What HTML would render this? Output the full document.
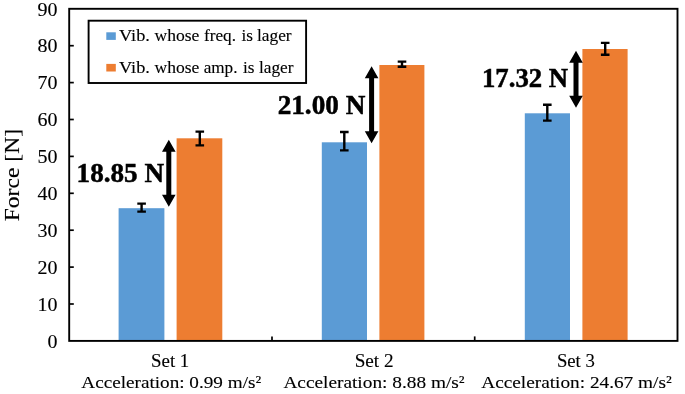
<!DOCTYPE html>
<html><head><meta charset="utf-8"><title>chart</title>
<style>
html,body{margin:0;padding:0;background:#fff;}
body{width:685px;height:394px;overflow:hidden;}
svg{display:block;filter:blur(0.45px);}
text{font-family:"Liberation Serif",serif;fill:#000;stroke:#000;stroke-width:0.12px;}
text.b{stroke-width:0.5px;}
</style></head><body>
<svg width="685" height="394" viewBox="0 0 685 394">
<rect x="0" y="0" width="685" height="394" fill="#fff"/>

<rect x="118.6" y="208.2" width="45.8" height="132.7" fill="#5b9bd5"/>
<rect x="176.6" y="138.3" width="45.7" height="202.6" fill="#ed7d31"/>
<rect x="321.8" y="142.3" width="45.2" height="198.6" fill="#5b9bd5"/>
<rect x="379.4" y="65.0" width="45.0" height="275.9" fill="#ed7d31"/>
<rect x="524.8" y="113.3" width="45.2" height="227.6" fill="#5b9bd5"/>
<rect x="582.4" y="49.0" width="45.2" height="291.9" fill="#ed7d31"/>
<path d="M141.6 203.6V211.6M137.29999999999998 203.6H145.9M137.29999999999998 211.6H145.9" stroke="#000" stroke-width="2.4" fill="none"/>
<path d="M199.8 131.6V145.4M195.5 131.6H204.10000000000002M195.5 145.4H204.10000000000002" stroke="#000" stroke-width="2.4" fill="none"/>
<path d="M344.3 132.0V150.4M340.0 132.0H348.6M340.0 150.4H348.6" stroke="#000" stroke-width="2.4" fill="none"/>
<path d="M402.0 61.6V66.8M397.7 61.6H406.3M397.7 66.8H406.3" stroke="#000" stroke-width="2.4" fill="none"/>
<path d="M547.3 104.8V120.6M543.0 104.8H551.5999999999999M543.0 120.6H551.5999999999999" stroke="#000" stroke-width="2.4" fill="none"/>
<path d="M605.2 42.9V54.8M600.9000000000001 42.9H609.5M600.9000000000001 54.8H609.5" stroke="#000" stroke-width="2.4" fill="none"/>
<rect x="69.2" y="8.8" width="608.3" height="332.1" fill="none" stroke="#000" stroke-width="1.9"/>
<text y="347.6" font-size="18"><tspan x="47.6" textLength="10.0" lengthAdjust="spacingAndGlyphs">0</tspan></text>
<path d="M69.2 304.0h4.6" stroke="#000" stroke-width="1.7"/>
<text y="310.7" font-size="18"><tspan x="37.6" textLength="20.0" lengthAdjust="spacingAndGlyphs">10</tspan></text>
<path d="M69.2 267.1h4.6" stroke="#000" stroke-width="1.7"/>
<text y="273.8" font-size="18"><tspan x="37.6" textLength="20.0" lengthAdjust="spacingAndGlyphs">20</tspan></text>
<path d="M69.2 230.2h4.6" stroke="#000" stroke-width="1.7"/>
<text y="236.9" font-size="18"><tspan x="37.6" textLength="20.0" lengthAdjust="spacingAndGlyphs">30</tspan></text>
<path d="M69.2 193.3h4.6" stroke="#000" stroke-width="1.7"/>
<text y="200.0" font-size="18"><tspan x="37.6" textLength="20.0" lengthAdjust="spacingAndGlyphs">40</tspan></text>
<path d="M69.2 156.4h4.6" stroke="#000" stroke-width="1.7"/>
<text y="163.1" font-size="18"><tspan x="37.6" textLength="20.0" lengthAdjust="spacingAndGlyphs">50</tspan></text>
<path d="M69.2 119.5h4.6" stroke="#000" stroke-width="1.7"/>
<text y="126.2" font-size="18"><tspan x="37.6" textLength="20.0" lengthAdjust="spacingAndGlyphs">60</tspan></text>
<path d="M69.2 82.6h4.6" stroke="#000" stroke-width="1.7"/>
<text y="89.3" font-size="18"><tspan x="37.6" textLength="20.0" lengthAdjust="spacingAndGlyphs">70</tspan></text>
<path d="M69.2 45.7h4.6" stroke="#000" stroke-width="1.7"/>
<text y="52.4" font-size="18"><tspan x="37.6" textLength="20.0" lengthAdjust="spacingAndGlyphs">80</tspan></text>
<text y="15.5" font-size="18"><tspan x="37.6" textLength="20.0" lengthAdjust="spacingAndGlyphs">90</tspan></text>
<path d="M272.0 340.9v-4.5" stroke="#000" stroke-width="1.7"/>
<path d="M474.7 340.9v-4.5" stroke="#000" stroke-width="1.7"/>
<text transform="translate(19.2 175.1) rotate(-90)" font-size="21.8" text-anchor="middle" textLength="92.5" lengthAdjust="spacingAndGlyphs">Force [N]</text>
<rect x="88.6" y="20.7" width="217.5" height="62.3" fill="#fff" stroke="#000" stroke-width="1.9"/>
<rect x="106.3" y="32.3" width="9.5" height="7.6" fill="#5b9bd5"/>
<rect x="106.3" y="63.9" width="9.5" height="7.6" fill="#ed7d31"/>
<text y="41.3" font-size="15.7"><tspan x="119.0" textLength="30.9" lengthAdjust="spacingAndGlyphs">Vib.</tspan><tspan x="154.5" textLength="44.8" lengthAdjust="spacingAndGlyphs">whose</tspan><tspan x="204" textLength="32.0" lengthAdjust="spacingAndGlyphs">freq.</tspan><tspan x="241.5" textLength="11.5" lengthAdjust="spacingAndGlyphs">is</tspan><tspan x="257" textLength="34.6" lengthAdjust="spacingAndGlyphs">lager</tspan></text>
<text y="72.6" font-size="15.7"><tspan x="119.0" textLength="30.9" lengthAdjust="spacingAndGlyphs">Vib.</tspan><tspan x="154.5" textLength="44.8" lengthAdjust="spacingAndGlyphs">whose</tspan><tspan x="203.7" textLength="33.8" lengthAdjust="spacingAndGlyphs">amp.</tspan><tspan x="243" textLength="11.5" lengthAdjust="spacingAndGlyphs">is</tspan><tspan x="259" textLength="34.5" lengthAdjust="spacingAndGlyphs">lager</tspan></text>
<path d="M168.8 139.8L175.60000000000002 151.8H171.3V194.8H175.60000000000002L168.8 206.8L162.0 194.8H166.3V151.8H162.0Z" fill="#000"/>
<path d="M371.6 66.2L378.40000000000003 78.2H374.1V131.3H378.40000000000003L371.6 143.3L364.8 131.3H369.1V78.2H364.8Z" fill="#000"/>
<path d="M576.0 50.7L582.8 62.7H578.5V95.7H582.8L576.0 107.7L569.2 95.7H573.5V62.7H569.2Z" fill="#000"/>
<text y="181.7" font-size="26.7" font-weight="bold" class="b"><tspan x="76.6" textLength="87.4" lengthAdjust="spacingAndGlyphs">18.85 N</tspan></text>
<text y="113.9" font-size="26.7" font-weight="bold" class="b"><tspan x="277.7" textLength="87.6" lengthAdjust="spacingAndGlyphs">21.00 N</tspan></text>
<text y="87.1" font-size="26.7" font-weight="bold" class="b"><tspan x="482" textLength="86.1" lengthAdjust="spacingAndGlyphs">17.32 N</tspan></text>
<text y="366.6" font-size="18.1"><tspan x="151" textLength="38.3" lengthAdjust="spacingAndGlyphs">Set 1</tspan></text>
<text y="388.3" font-size="17.6"><tspan x="81.3" textLength="179.9" lengthAdjust="spacingAndGlyphs">Acceleration: 0.99 m/s²</tspan></text>
<text y="366.6" font-size="18.1"><tspan x="354.7" textLength="38.9" lengthAdjust="spacingAndGlyphs">Set 2</tspan></text>
<text y="388.3" font-size="17.6"><tspan x="283.4" textLength="181.2" lengthAdjust="spacingAndGlyphs">Acceleration: 8.88 m/s²</tspan></text>
<text y="366.6" font-size="18.1"><tspan x="556.9" textLength="38.0" lengthAdjust="spacingAndGlyphs">Set 3</tspan></text>
<text y="388.3" font-size="17.6"><tspan x="481.3" textLength="190.4" lengthAdjust="spacingAndGlyphs">Acceleration: 24.67 m/s²</tspan></text>
</svg></body></html>
